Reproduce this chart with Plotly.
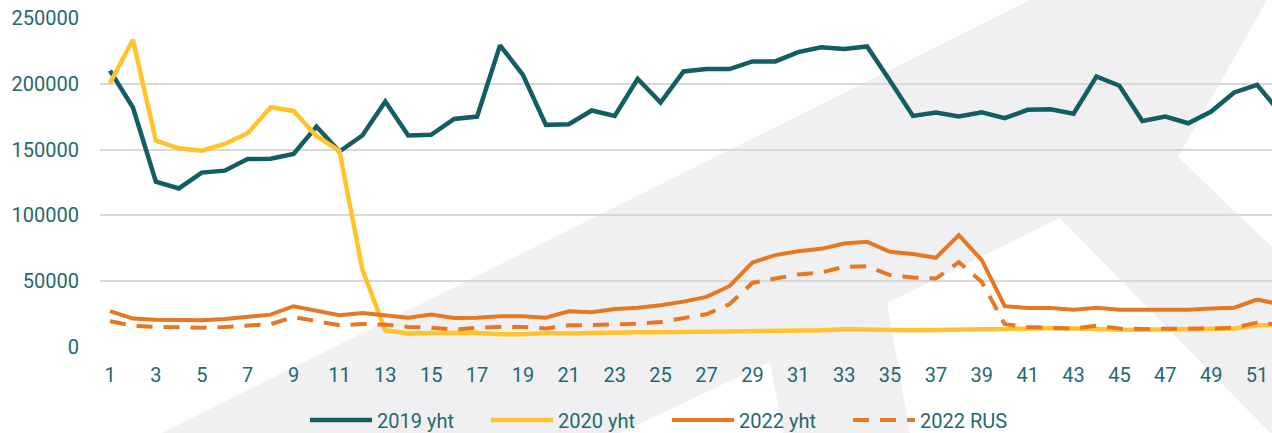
import plotly.graph_objects as go

weeks = list(range(1, 53))
tick_weeks = list(range(1, 52, 2))
y_ticks = [0, 50000, 100000, 150000, 200000, 250000]

y2019 = [210000, 182000, 125600, 120500, 132500, 134000, 142900, 143000, 146700, 167500,
         148500, 160700, 186500, 160700, 161200, 173300, 175100, 229200, 206800, 168800,
         169300, 179700, 175600, 203800, 185800, 209400, 211200, 211200, 217000, 217000,
         224100, 227700, 226400, 228400, 202300, 175600, 178200, 175100, 178400, 173900,
         180200, 180700, 177200, 205600, 198500, 171800, 175100, 170000, 178900, 193400,
         199200, 178300]
y2020 = [200500, 233500, 156800, 151000, 149200, 154300, 162400, 182200, 179400, 160400,
         149000, 58900, 12700, 10200, 10700, 10700, 10900, 9600, 9600, 10700,
         10200, 10700, 11200, 11200, 11200, 11400, 11700, 12000, 12000, 12000,
         12700, 12700, 13500, 13200, 12700, 12700, 13000, 13500, 13500, 13500,
         14200, 14500, 14000, 13200, 13200, 13200, 13200, 13200, 13500, 14000,
         16500, 16500]
y2022 = [27200, 21600, 20800, 20800, 20300, 21300, 22800, 24600, 31000, 27200,
         24100, 25900, 24100, 22300, 24600, 22100, 22300, 23300, 23300, 22300,
         27200, 26400, 28900, 29900, 31700, 34500, 38100, 46200, 64200, 69800,
         72800, 74600, 78700, 79900, 72300, 70600, 67800, 85000, 66000, 31000,
         29700, 29700, 28400, 29900, 28400, 28400, 27900, 28400, 29200, 29900,
         36000, 32500]
y2022_rus = [19500, 16200, 15200, 14700, 14700, 15200, 16200, 17300, 22800, 19500,
             16500, 17500, 17000, 15200, 14700, 13200, 14700, 15200, 15200, 14000,
             16500, 16700, 17000, 17800, 19000, 21600, 24900, 32500, 48700, 52000,
             55100, 56600, 60900, 61400, 54600, 52800, 52000, 64500, 49500, 17300,
             15200, 14500, 14000, 16200, 14000, 13700, 13700, 13700, 14000, 14700,
             18500, 17000]

names = ["2019 yht", "2020 yht", "2022 yht", "2022 RUS"]

TEAL = "#135E63"
YELLOW = "#FFC42C"
ORANGE = "#E87722"
TEXT = "#26686F"
GREY = "#F0F0F3"

W, H = 1272, 433
ML, MR, MT, MB = 100, 0, 18, 86
PW, PH = W - ML - MR, H - MT - MB


def P(px, py):
    return (px - ML) / PW, (H - MB - py) / PH


def path(pts):
    s = ""
    for i, (px, py) in enumerate(pts):
        x, y = P(px, py)
        s += ("M" if i == 0 else "L") + f"{x:.4f},{y:.4f} "
    return s + "Z"


fig = go.Figure()
fig.add_trace(go.Scatter(x=weeks, y=y2019, name=names[0], mode="lines",
                         line=dict(color=TEAL, width=4.5)))
fig.add_trace(go.Scatter(x=weeks, y=y2020, name=names[1], mode="lines",
                         line=dict(color=YELLOW, width=4.5)))
fig.add_trace(go.Scatter(x=weeks, y=y2022, name=names[2], mode="lines",
                         line=dict(color=ORANGE, width=4)))
fig.add_trace(go.Scatter(x=weeks, y=y2022_rus, name=names[3], mode="lines",
                         line=dict(color=ORANGE, width=4, dash="16px,11px")))

shapes = [
    dict(type="path", xref="paper", yref="paper", layer="below",
         path=path([(162, 433), (1030, 0), (1267, 0), (1178, 157), (1272, 247), (1272, 433)]),
         fillcolor=GREY, line=dict(width=0)),
    dict(type="path", xref="paper", yref="paper", layer="below",
         path=path([(620, 433), (770, 362), (783, 433)]),
         fillcolor="white", line=dict(width=0)),
    dict(type="path", xref="paper", yref="paper", layer="below",
         path=path([(887, 303), (1060, 218), (1275, 438), (910, 433)]),
         fillcolor="white", line=dict(width=0)),
]

fig.update_layout(
    width=W, height=H,
    margin=dict(l=ML, r=MR, t=MT, b=MB, autoexpand=False),
    paper_bgcolor="white",
    plot_bgcolor="rgba(0,0,0,0)",
    font=dict(family="Roboto", size=20, color=TEXT),
    shapes=shapes,
    showlegend=True,
    legend=dict(orientation="h", x=P(305, 0)[0], xanchor="left",
                y=P(0, 420)[1], yanchor="middle",
                font=dict(family="Roboto", size=20, color=TEXT),
                bgcolor="rgba(0,0,0,0)", itemwidth=62, entrywidth=104),
    xaxis=dict(range=[0.564, 51.65], tickmode="array", tickvals=tick_weeks,
               showgrid=False, zeroline=False, showline=False, automargin=False,
               ticks="outside", ticklen=10, tickcolor="rgba(0,0,0,0)",
               tickfont=dict(family="Roboto", size=20, color=TEXT)),
    yaxis=dict(range=[0, 250000], tickmode="array", tickvals=y_ticks,
               showgrid=True, gridcolor="#D9D9D9", gridwidth=2,
               zeroline=False, showline=False, automargin=False,
               ticks="outside", ticklen=16, tickcolor="rgba(0,0,0,0)",
               tickformat="d",
               tickfont=dict(family="Roboto", size=20, color=TEXT)),
)

fig.write_html(
    "out.html",
    config={"displayModeBar": False},
    post_script="document.body.style.margin='0';document.body.style.padding='0';"
                "document.body.style.overflow='hidden';",
)
